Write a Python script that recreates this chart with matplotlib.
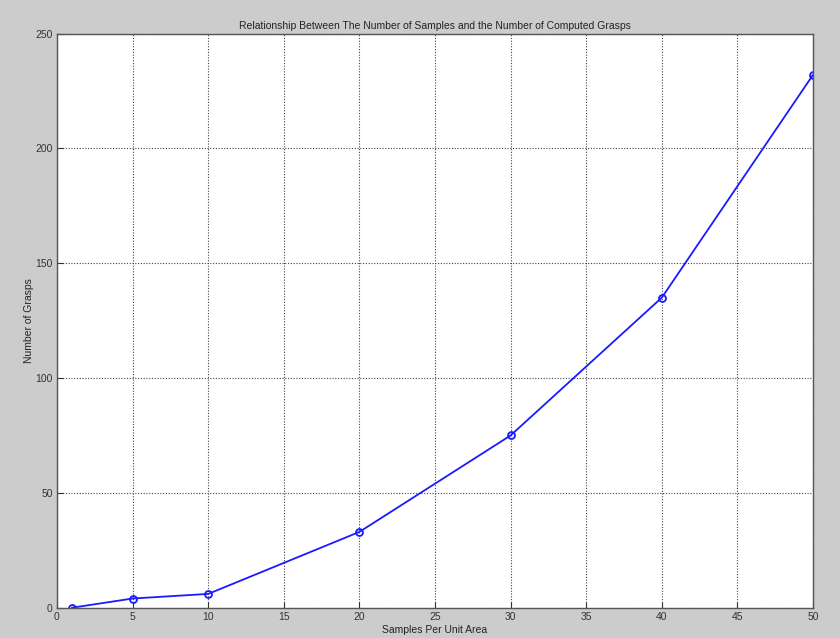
import matplotlib
matplotlib.use("Agg")
import matplotlib.pyplot as plt

samples = [1, 5, 10, 20, 30, 40, 50]
grasps = [0, 4, 6, 33, 75, 135, 232]
x_ticks = list(range(0, 51, 5))
y_ticks = list(range(0, 251, 50))

plt.rcParams["font.family"] = ["Liberation Sans", "DejaVu Sans"]

fig = plt.figure(figsize=(8.4, 6.38), dpi=100, facecolor="#cccccc")
ax = fig.add_axes([57 / 840, 1 - 607.7 / 638, (813 - 57) / 840, (607.7 - 33.5) / 638])

ax.plot(samples, grasps, color="#1a1aff", linewidth=1.3,
        marker="o", markersize=5, markerfacecolor="none",
        markeredgecolor="#1a1aff", markeredgewidth=1.3)

ax.set_xlim(0, 50)
ax.set_ylim(0, 250)
ax.set_xticks(x_ticks)
ax.set_yticks(y_ticks)
ax.grid(True, color="#444444", linestyle=(0, (1, 1.5)), linewidth=0.8)
ax.tick_params(direction="in", length=4, labelsize=7.5, colors="#333333", pad=3)
for spine in ax.spines.values():
    spine.set_color("#555555")
    spine.set_linewidth(1.0)

ax.set_title("Relationship Between The Number of Samples and the Number of Computed Grasps",
             fontsize=7.5, color="#222222", pad=3)
ax.set_xlabel("Samples Per Unit Area", fontsize=7.5, color="#222222", labelpad=2)
ax.set_ylabel("Number of Grasps", fontsize=7.5, color="#222222", labelpad=1)

fig.savefig("out.png", dpi=100, facecolor=fig.get_facecolor())
